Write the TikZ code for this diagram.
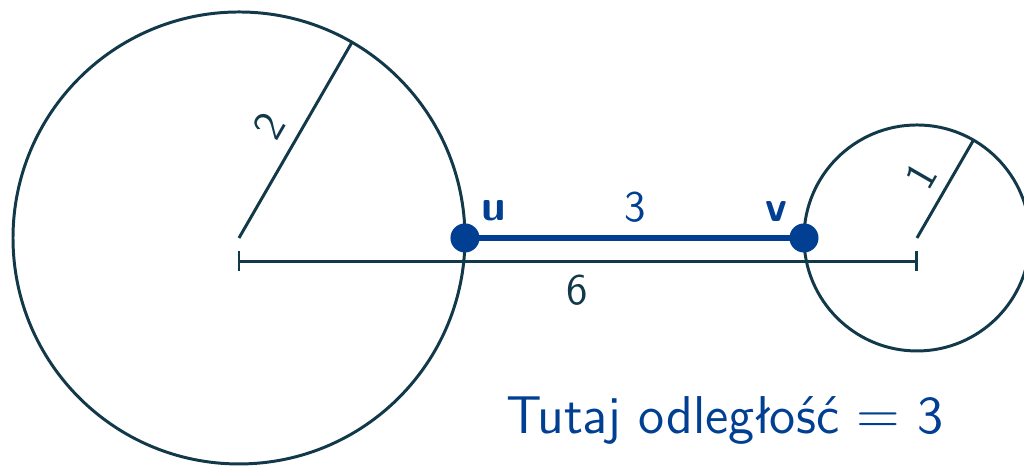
\documentclass[tikz,border=0pt]{standalone}
\usepackage{fontspec}
\usetikzlibrary{calc}
\renewcommand{\familydefault}{\sfdefault}
\definecolor{ink}{HTML}{12394A}
\definecolor{accent}{HTML}{003F91}
\begin{document}
\begin{tikzpicture}[
  geom/.style={draw=ink, line width=0.75pt},
  lbl/.style={text=ink, font=\fontsize{11}{13}\selectfont\sffamily, inner sep=0pt},
  blbl/.style={text=accent, font=\fontsize{11}{13}\selectfont\sffamily, inner sep=0pt},
  ptdot/.style={circle, fill=accent, minimum size=0.257cm, inner sep=0pt}
]
\useasboundingbox (-2.115,-2.018) rectangle (6.947,2.106);
\coordinate (c1) at (0,0);
\coordinate (c2) at (6,0);
\coordinate (r1) at (60:2);
\coordinate (r2) at ($(c2)+(60:1)$);
\draw[geom] (c1) circle (2);
\draw[geom] (c2) circle (1);
\draw[geom] (c1) -- (r1);
\draw[geom] (c2) -- (r2);
\node[lbl, rotate=60] (l2) at (0.265,0.991) {2};
\node[lbl, rotate=60] (l1) at (6.035,0.549) {1};
% dimension line
\coordinate (d1) at (0,-0.205);
\coordinate (d2) at (6,-0.205);
\draw[geom] (d1) -- (d2);
\draw[geom] ($(d1)+(0,-0.088)$) -- ($(d1)+(0,0.088)$);
\draw[geom] ($(d2)+(0,-0.088)$) -- ($(d2)+(0,0.088)$);
\node[lbl, anchor=base] (l6) at (2.99,-0.593) {6};
% u-v segment
\node[ptdot] (u) at (2,0) {};
\node[ptdot] (v) at (5,0) {};
\draw[accent, line width=1.6pt] (u.center) -- (v.center);
\node[blbl, anchor=base, font=\fontsize{11}{13}\selectfont\sffamily\bfseries] (lu) at (2.257,0.159) {u};
\node[blbl, anchor=base, font=\fontsize{11}{13}\selectfont\sffamily\bfseries] (lv) at (4.752,0.142) {v};
\node[blbl, anchor=base] (l3) at (3.504,0.142) {3};
\node[blbl, anchor=base, font=\fontsize{13.4}{16}\selectfont\sffamily] (txt) at (4.30,-1.726) {Tutaj odległość \(=\) 3};
\end{tikzpicture}
\end{document}
